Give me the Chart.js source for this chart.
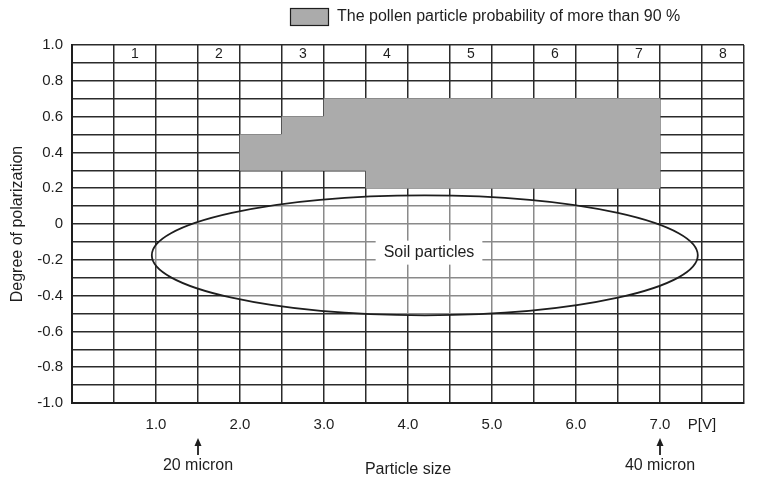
<!DOCTYPE html>
<html>
<head>
<meta charset="UTF-8">
<title>Degree of polarization vs particle size</title>
<script src="https://cdn.jsdelivr.net/npm/chart.js@4.4.0/dist/chart.umd.min.js"></script>
<style>
  * { margin: 0; padding: 0; box-sizing: border-box; }
  body { background: #fff; }
  .wrap { width: 757px; height: 483px; position: relative; }
</style>
</head>
<body>
<div class="wrap"><canvas id="chart"></canvas></div>
<script>
// pollen region (>90 %): one column per 0.5 step of P[V], floating from low to high
const pollenX = [2.25, 2.75, 3.25, 3.75, 4.25, 4.75, 5.25, 5.75, 6.25, 6.75];
const pollenLow = [0.3, 0.3, 0.3, 0.2, 0.2, 0.2, 0.2, 0.2, 0.2, 0.2];
const pollenHigh = [0.5, 0.6, 0.7, 0.7, 0.7, 0.7, 0.7, 0.7, 0.7, 0.7];

// column numbers in the top row of the grid
const columnLabels = ['1', '2', '3', '4', '5', '6', '7', '8'];
const columnLabelX = [0.75, 1.75, 2.75, 3.75, 4.75, 5.75, 6.75, 7.75];
const columnLabelY = 0.95;

// soil particles ellipse (centre and half axes, data units)
const soilCenter = [4.2, -0.175];
const soilRadius = [3.25, 0.335];
const soilLabel = 'Soil particles';
const soilLabelAt = [4.25, -0.16];

// axis ticks
const xTickValues = [1, 2, 3, 4, 5, 6, 7];
const xUnitLabel = 'P[V]';
const xUnitAt = 7.5;
const yLabelStep = 0.2;

// arrows under the x axis
const markerX = [1.5, 7.0];
const markerLabels = ['20 micron', '40 micron'];

const legendText = 'The pollen particle probability of more than 90 %';

const FONT = "'Liberation Sans', Arial, sans-serif";
const INK = '#1e1e1e';
const GRID = '#2b2b2b';
const FILL = '#ababab';

const overlay = {
  id: 'overlay',
  afterDraw(chart) {
    const { ctx, scales: { x, y } } = chart;
    ctx.save();

    // ellipse, slightly whitened inside like the scan
    const cx = x.getPixelForValue(soilCenter[0]);
    const cy = y.getPixelForValue(soilCenter[1]);
    const rx = x.getPixelForValue(soilCenter[0] + soilRadius[0]) - cx;
    const ry = cy - y.getPixelForValue(soilCenter[1] + soilRadius[1]);
    ctx.beginPath();
    ctx.ellipse(cx, cy, rx, ry, 0, 0, Math.PI * 2);
    ctx.fillStyle = 'rgba(255,255,255,0.45)';
    ctx.fill();
    ctx.lineWidth = 1.8;
    ctx.strokeStyle = INK;
    ctx.stroke();

    // soil label on a white patch
    ctx.font = '16px ' + FONT;
    ctx.textAlign = 'center';
    ctx.textBaseline = 'middle';
    const lx = x.getPixelForValue(soilLabelAt[0]);
    const ly = y.getPixelForValue(soilLabelAt[1]);
    const tw = ctx.measureText(soilLabel).width;
    ctx.fillStyle = '#fff';
    ctx.fillRect(lx - tw / 2 - 8, ly - 12, tw + 16, 24);
    ctx.fillStyle = INK;
    ctx.fillText(soilLabel, lx, ly);

    // column numbers
    ctx.font = '14px ' + FONT;
    columnLabels.forEach((t, i) => {
      ctx.fillText(t, x.getPixelForValue(columnLabelX[i]), y.getPixelForValue(columnLabelY));
    });

    // arrows + micron labels
    ctx.strokeStyle = INK;
    ctx.fillStyle = INK;
    ctx.lineWidth = 1.8;
    markerX.forEach((v, i) => {
      const px = x.getPixelForValue(v);
      ctx.beginPath();
      ctx.moveTo(px, 455);
      ctx.lineTo(px, 443);
      ctx.stroke();
      ctx.beginPath();
      ctx.moveTo(px - 3.5, 446);
      ctx.lineTo(px, 438);
      ctx.lineTo(px + 3.5, 446);
      ctx.closePath();
      ctx.fill();
      ctx.font = '16px ' + FONT;
      ctx.fillText(markerLabels[i], px, 466);
    });

    // legend
    ctx.fillStyle = FILL;
    ctx.fillRect(290, 8, 39, 18);
    ctx.lineWidth = 1.2;
    ctx.strokeStyle = INK;
    ctx.strokeRect(290.5, 8.5, 38, 17);
    ctx.fillStyle = INK;
    ctx.textAlign = 'left';
    ctx.font = '16px ' + FONT;
    ctx.fillText(legendText, 337, 17);

    ctx.restore();
  }
};

new Chart(document.getElementById('chart'), {
  type: 'bar',
  data: {
    datasets: [{
      label: legendText,
      data: pollenX.map((v, i) => ({ x: v, y: [pollenLow[i], pollenHigh[i]] })),
      backgroundColor: FILL,
      borderWidth: 0,
      barPercentage: 1,
      categoryPercentage: 1,
    }]
  },
  options: {
    responsive: true,
    maintainAspectRatio: false,
    animation: false,
    layout: { padding: { top: 45, right: 7, left: 0, bottom: 0 } },
    plugins: {
      legend: { display: false },
      tooltip: { enabled: false }
    },
    scales: {
      x: {
        type: 'linear',
        min: 0,
        max: 8,
        offset: false,
        z: 1,
        afterFit: s => { s.height = 80; },
        afterBuildTicks: s => {
          const t = [];
          for (let i = 0; i <= 16; i++) t.push({ value: i * 0.5 });
          s.ticks = t;
        },
        grid: { offset: false, color: GRID, lineWidth: 1.5, drawTicks: false },
        border: { color: INK, width: 2 },
        ticks: {
          autoSkip: false,
          maxRotation: 0,
          padding: 13,
          color: INK,
          font: { family: FONT, size: 15 },
          callback: v => {
            if (xTickValues.includes(v)) return v.toFixed(1);
            if (v === xUnitAt) return xUnitLabel;
            return '';
          }
        },
        title: {
          display: true,
          text: 'Particle size',
          color: INK,
          font: { family: FONT, size: 16 },
          padding: { top: 0, bottom: 4 }
        }
      },
      y: {
        min: -1,
        max: 1,
        z: 1,
        afterFit: s => { s.width = 72; },
        grid: { color: GRID, lineWidth: 1.5, drawTicks: false },
        border: { color: INK, width: 2 },
        ticks: {
          stepSize: 0.1,
          autoSkip: false,
          padding: 9,
          color: INK,
          font: { family: FONT, size: 15 },
          callback: v => {
            const k = Math.round(v * 10);
            if (k % Math.round(yLabelStep * 10) !== 0) return '';
            return k === 0 ? '0' : (k / 10).toFixed(1);
          }
        },
        title: {
          display: true,
          text: 'Degree of polarization',
          color: INK,
          font: { family: FONT, size: 16 },
          padding: { top: 8, bottom: 0 }
        }
      }
    }
  },
  plugins: [overlay]
});
</script>
</body>
</html>
